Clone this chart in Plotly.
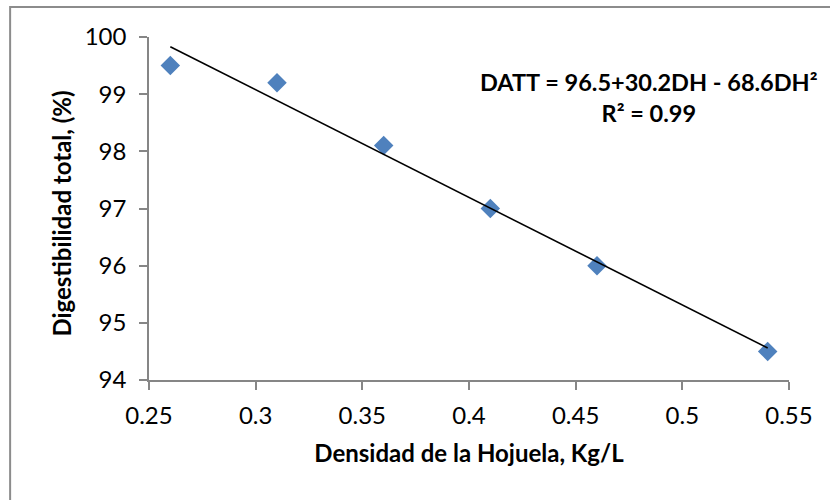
import numpy as np
import plotly.graph_objects as go

densidad = [0.26, 0.31, 0.36, 0.41, 0.46, 0.54]
digestibilidad = [99.5, 99.2, 98.1, 97.0, 96.0, 94.5]

x_ticks = [0.25, 0.3, 0.35, 0.4, 0.45, 0.5, 0.55]
y_ticks = [94, 95, 96, 97, 98, 99, 100]

equation_text = "<b>DATT = 96.5+30.2DH - 68.6DH²</b><br><b>R² = 0.99</b>"
x_title = "Densidad de la Hojuela, Kg/L"
y_title = "Digestibilidad total, (%)"

# linear trend line fitted to the data
coef = np.polyfit(densidad, digestibilidad, 1)
trend_x = [min(densidad), max(densidad)]
trend_y = [float(np.polyval(coef, v)) for v in trend_x]

FONT = "Lato, 'Liberation Sans', sans-serif"
AXIS_COLOR = "#868686"

fig = go.Figure()
fig.add_trace(go.Scatter(
    x=densidad, y=digestibilidad, mode="markers",
    marker=dict(symbol="diamond", size=15, color="#4F81BD"),
    showlegend=False, cliponaxis=False,
))
fig.add_trace(go.Scatter(
    x=trend_x, y=trend_y, mode="lines",
    line=dict(color="black", width=1.6),
    showlegend=False,
))

fig.update_layout(
    width=830, height=500,
    margin=dict(l=149, r=41, t=37, b=120),
    paper_bgcolor="white", plot_bgcolor="white",
    font=dict(family=FONT, size=24, color="black"),
    xaxis=dict(
        range=[0.25, 0.55], tickvals=x_ticks, ticktext=[f"{v:g}" for v in x_ticks],
        showgrid=False, zeroline=False, showline=True, linecolor=AXIS_COLOR, linewidth=1.6,
        ticks="outside", ticklen=8, tickwidth=1.6, tickcolor=AXIS_COLOR,
        tickfont=dict(size=24), ticklabelstandoff=5,
        title=dict(text=f"<b>{x_title}</b>", font=dict(size=24), standoff=18),
    ),
    yaxis=dict(
        range=[94, 100], tickvals=y_ticks,
        showgrid=False, zeroline=False, showline=True, linecolor=AXIS_COLOR, linewidth=1.6,
        ticks="outside", ticklen=8, tickwidth=1.6, tickcolor=AXIS_COLOR,
        tickfont=dict(size=24), ticklabelstandoff=8,
    ),
    annotations=[
        dict(
            xref="paper", yref="paper", x=0.782, y=0.823, xanchor="center", yanchor="middle",
            text=equation_text, showarrow=False, align="center",
            font=dict(size=23.5, family=FONT, color="black"),
        ),
        dict(
            xref="paper", yref="paper", x=-0.136, y=0.485, xanchor="center", yanchor="middle",
            text=f"<b>{y_title}</b>", showarrow=False, textangle=-90,
            font=dict(size=24, family=FONT, color="black"),
        ),
    ],
    shapes=[dict(
        type="rect", xref="paper", yref="paper",
        x0=-0.217, y0=-0.45, x1=1.2, y1=1.0875,
        line=dict(color="#8c8c8c", width=2), fillcolor="rgba(0,0,0,0)", layer="below",
    )],
)

fig.write_html("out.html")
